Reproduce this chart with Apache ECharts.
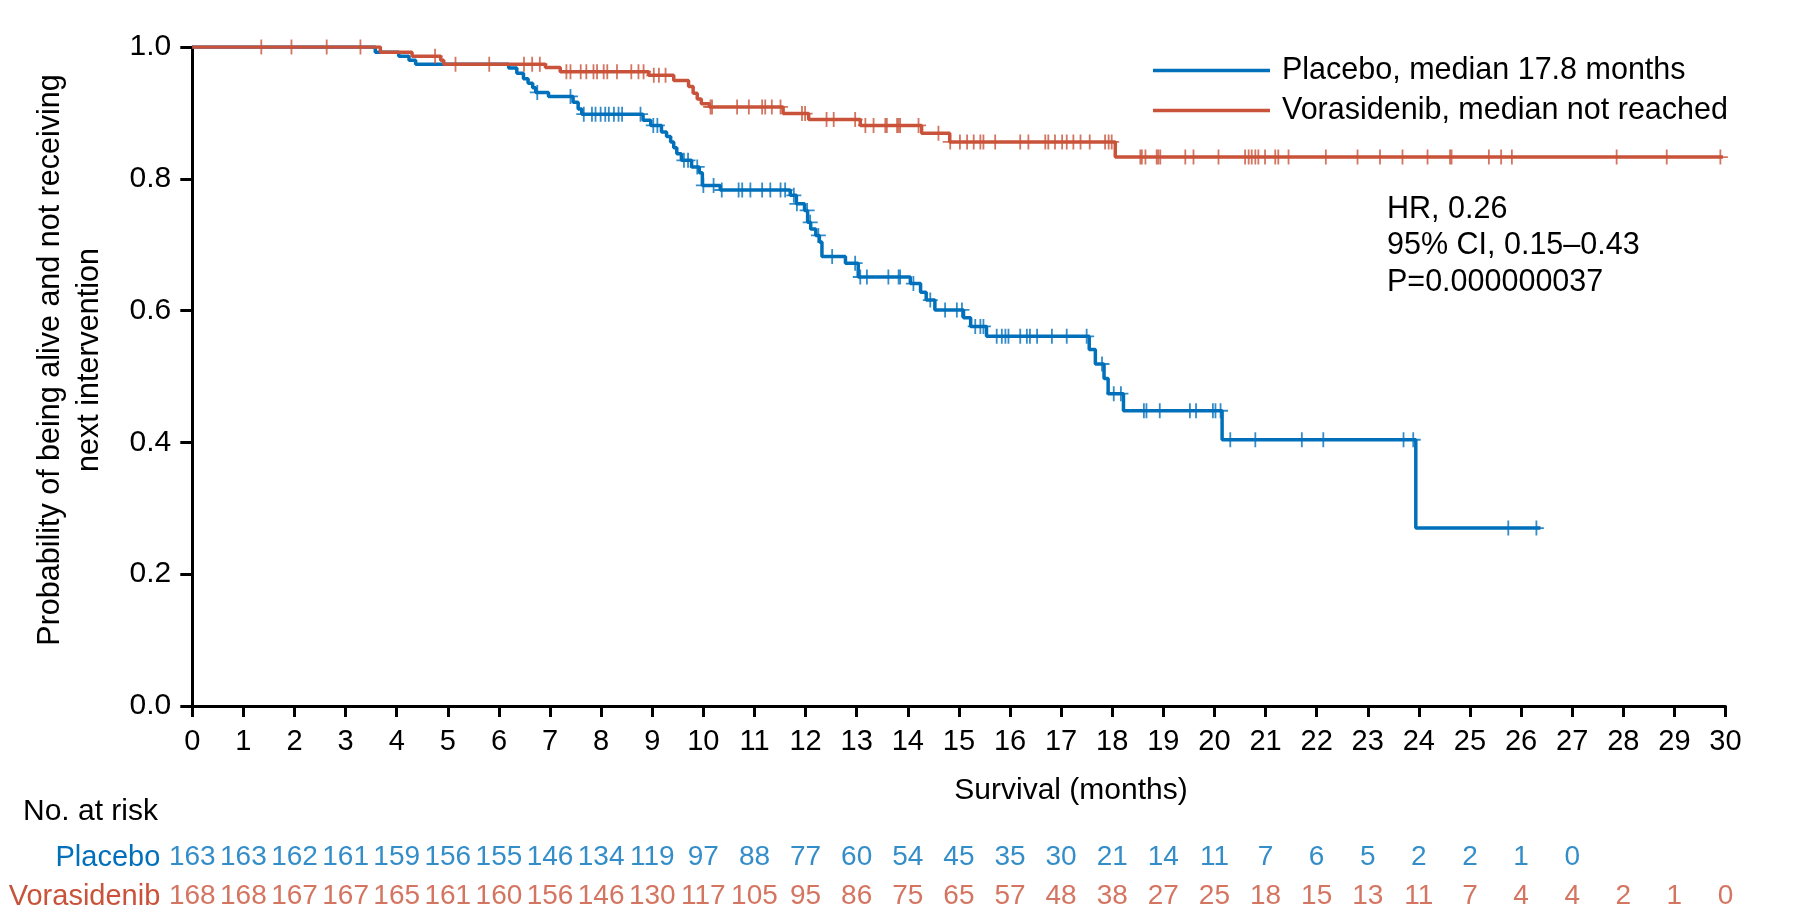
<!DOCTYPE html>
<html><head><meta charset="utf-8">
<script src="https://cdn.jsdelivr.net/npm/echarts@6/dist/echarts.min.js"></script>
<style>html,body{margin:0;padding:0;background:#fff}#c{width:1800px;height:921px}</style>
</head><body><div id="c"></div>
<script>
// ---- data ----
const seriesNames = ['Placebo, median 17.8 months', 'Vorasidenib, median not reached'];
const riskLabels = ['Placebo', 'Vorasidenib'];
const xTicks = [0,1,2,3,4,5,6,7,8,9,10,11,12,13,14,15,16,17,18,19,20,21,22,23,24,25,26,27,28,29,30];
const yTicks = [0, 0.2, 0.4, 0.6, 0.8, 1.0];

// Kaplan-Meier steps: [month, survival after event]
const placeboEvents = [[0,1],[3.58,0.992],[4.04,0.986],[4.24,0.980],[4.37,0.974],[6.19,0.968],[6.35,0.960],
  [6.48,0.952],[6.57,0.945],[6.66,0.938],[6.72,0.931],[6.97,0.925],[7.45,0.916],[7.55,0.906],[7.62,0.898],
  [8.82,0.889],[8.97,0.881],[9.18,0.871],[9.28,0.864],[9.36,0.856],[9.42,0.847],[9.48,0.838],[9.57,0.828],
  [9.77,0.818],[9.92,0.809],[9.98,0.790],[10.33,0.783],[11.70,0.775],[11.82,0.762],[11.98,0.752],[12.04,0.734],
  [12.10,0.724],[12.20,0.714],[12.27,0.704],[12.32,0.682],[12.78,0.672],[13.03,0.651],[14.05,0.641],[14.25,0.628],
  [14.36,0.616],[14.53,0.601],[15.09,0.589],[15.23,0.576],[15.54,0.561],[17.55,0.541],[17.67,0.519],[17.84,0.497],
  [17.92,0.474],[18.22,0.448],[20.15,0.404],[23.94,0.270]];
const placeboEnd = 26.38;
const placeboCensors = [6.75,7.40,7.66,7.82,7.89,7.99,8.08,8.15,8.25,8.34,8.41,8.77,9.02,9.10,9.62,9.70,9.88,
  10.00,10.20,10.36,10.69,10.76,10.92,11.15,11.31,11.51,11.60,11.77,11.83,12.03,12.09,12.25,12.52,12.97,13.07,13.20,
  13.62,13.82,13.85,14.11,14.44,14.73,14.96,15.06,15.32,15.42,15.48,15.74,15.84,15.91,15.97,16.20,16.33,16.39,16.53,
  16.82,17.11,17.50,17.80,18.03,18.17,18.62,18.67,18.93,19.52,19.64,19.97,20.02,20.12,20.31,20.80,21.71,22.13,
  23.70,23.89,25.75,26.30];

const voraEvents = [[0,1],[3.68,0.992],[4.30,0.986],[4.86,0.980],[4.92,0.974],[6.91,0.969],[7.20,0.9625],
  [8.93,0.957],[9.42,0.949],[9.71,0.940],[9.80,0.930],[9.88,0.921],[9.96,0.914],[10.12,0.909],[11.56,0.899],
  [12.06,0.890],[13.07,0.881],[14.27,0.869],[14.82,0.856],[18.06,0.833]];
const voraEnd = 29.95;
const voraCensors = [1.35,1.94,2.63,3.29,4.75,5.15,5.81,6.49,6.65,6.80,7.32,7.40,7.60,7.71,7.85,7.92,8.05,8.12,
  8.31,8.59,8.73,8.83,9.03,9.13,9.26,10.14,10.17,10.66,10.89,11.15,11.21,11.34,11.51,11.93,11.99,12.41,12.55,12.97,
  13.17,13.33,13.56,13.59,13.79,13.82,13.85,14.21,14.60,14.83,15.02,15.16,15.29,15.42,15.48,15.71,16.20,16.36,16.69,
  16.75,16.88,17.02,17.11,17.24,17.38,17.56,17.86,17.93,17.99,18.55,18.58,18.65,18.87,18.90,18.94,19.43,19.59,20.08,
  20.60,20.67,20.73,20.80,20.86,20.99,21.19,21.25,21.45,22.18,22.80,23.24,23.68,24.17,24.61,24.64,25.37,25.61,25.82,
  27.87,28.85,29.90];

const placeboRisk = [163,163,162,161,159,156,155,146,134,119,97,88,77,60,54,45,35,30,21,14,11,7,6,5,2,2,1,0];
const voraRisk = [168,168,167,167,165,161,160,156,146,130,117,105,95,86,75,65,57,48,38,27,25,18,15,13,11,7,4,4,2,1,0];

const statsLines = ['HR, 0.26', '95% CI, 0.15\u20130.43', 'P=0.000000037'];
const xTitle = 'Survival (months)';
const yTitleLines = ['Probability of being alive and not receiving', 'next intervention'];
const riskTitle = 'No. at risk';

// ---- styles ----
const BLUE = '#0070BB';
const RED = '#C9533A';
const FONT = '"Liberation Sans", Arial, sans-serif';
const PLUS = 'path://M8.8,0H11.2V8.8H20V11.2H11.2V20H8.8V11.2H0V8.8H8.8Z';

function stepAt(events, t) {
  let v = events[0][1];
  for (const e of events) { if (e[0] <= t) v = e[1]; else break; }
  return v;
}
const lineData = (ev, end) => ev.concat([[end, ev[ev.length - 1][1]]]);
const censorData = (ev, cs) => cs.map(t => [t, stepAt(ev, t)]);
const riskData = (arr, row) => arr.map((n, i) => [xTicks[i], row, n]);

const chart = echarts.init(document.getElementById('c'), null, { renderer: 'canvas' });
chart.setOption({
  animation: false,
  backgroundColor: '#fff',
  textStyle: { fontFamily: FONT },
  grid: [
    { left: 192.3, right: 74.5, top: 47, bottom: 215 },
    { left: 192.3, right: 74.5, top: 838, height: 78 }
  ],
  legend: {
    data: seriesNames,
    orient: 'vertical',
    left: 1153, top: 55, padding: 0,
    icon: 'rect', itemWidth: 117, itemHeight: 3.5, itemGap: 9,
    textStyle: { fontSize: 30.5, fontFamily: FONT, color: '#000', lineHeight: 30, padding: [0, 0, 0, 7] },
    selectedMode: false
  },
  xAxis: [
    { type: 'value', gridIndex: 0, min: 0, max: 30, interval: 1,
      axisLine: { show: true, lineStyle: { color: '#000', width: 3 } },
      axisTick: { show: true, length: 11, lineStyle: { color: '#000', width: 3 } },
      axisLabel: { fontSize: 29, fontFamily: FONT, color: '#000', margin: 21 },
      splitLine: { show: false } },
    { type: 'value', gridIndex: 1, min: 0, max: 30, interval: 1, show: false }
  ],
  yAxis: [
    { type: 'value', gridIndex: 0, min: 0, max: 1, interval: 0.2,
      axisLine: { show: true, lineStyle: { color: '#000', width: 3 } },
      axisTick: { show: true, length: 12, lineStyle: { color: '#000', width: 3 } },
      axisLabel: { fontSize: 30, fontFamily: FONT, color: '#000', margin: 21, formatter: v => v.toFixed(1) },
      splitLine: { show: false } },
    { type: 'category', gridIndex: 1, data: riskLabels, inverse: true,
      axisLine: { show: false }, axisTick: { show: false }, splitLine: { show: false },
      axisLabel: { fontSize: 29, fontFamily: FONT, margin: 32,
        color: (v) => (v === riskLabels[0] ? BLUE : RED) } }
  ],
  series: [
    { name: seriesNames[0], type: 'line', step: 'end', showSymbol: false, symbol: 'none',
      data: lineData(placeboEvents, placeboEnd), color: BLUE,
      lineStyle: { color: BLUE, width: 3.5 }, z: 2 },
    { name: 'Placebo censored', type: 'scatter', data: censorData(placeboEvents, placeboCensors),
      symbol: PLUS, symbolSize: 15, itemStyle: { color: BLUE }, z: 3 },
    { name: seriesNames[1], type: 'line', step: 'end', showSymbol: false, symbol: 'none',
      data: lineData(voraEvents, voraEnd), color: RED,
      lineStyle: { color: RED, width: 3.5 }, z: 4 },
    { name: 'Vorasidenib censored', type: 'scatter', data: censorData(voraEvents, voraCensors),
      symbol: PLUS, symbolSize: 15, itemStyle: { color: RED }, z: 5 },
    { name: 'risk placebo', type: 'scatter', xAxisIndex: 1, yAxisIndex: 1, symbolSize: 0,
      data: riskData(placeboRisk, riskLabels[0]),
      label: { show: true, position: 'inside', formatter: p => String(p.value[2]),
        fontSize: 28, fontFamily: FONT, color: BLUE } },
    { name: 'risk vora', type: 'scatter', xAxisIndex: 1, yAxisIndex: 1, symbolSize: 0,
      data: riskData(voraRisk, riskLabels[1]),
      label: { show: true, position: 'inside', formatter: p => String(p.value[2]),
        fontSize: 28, fontFamily: FONT, color: RED } }
  ],
  graphic: [
    { type: 'text', x: 70, y: 360, rotation: Math.PI / 2,
      style: { text: yTitleLines.join('\n'), font: '30.5px ' + FONT, fill: '#000',
        align: 'center', verticalAlign: 'middle', textAlign: 'center', textVerticalAlign: 'middle', lineHeight: 39 } },
    { type: 'text', x: 1071, y: 791,
      style: { text: xTitle, font: '30px ' + FONT, fill: '#000',
        align: 'center', verticalAlign: 'middle', textAlign: 'center', textVerticalAlign: 'middle' } },
    { type: 'text', x: 1387, y: 191,
      style: { text: statsLines.join('\n'), font: '30.5px ' + FONT, fill: '#000',
        align: 'left', verticalAlign: 'top', textAlign: 'left', textVerticalAlign: 'top', lineHeight: 36.7 } },
    { type: 'text', x: 23, y: 812,
      style: { text: riskTitle, font: '30px ' + FONT, fill: '#000',
        align: 'left', verticalAlign: 'middle', textAlign: 'left', textVerticalAlign: 'middle' } }
  ]
});
</script></body></html>
